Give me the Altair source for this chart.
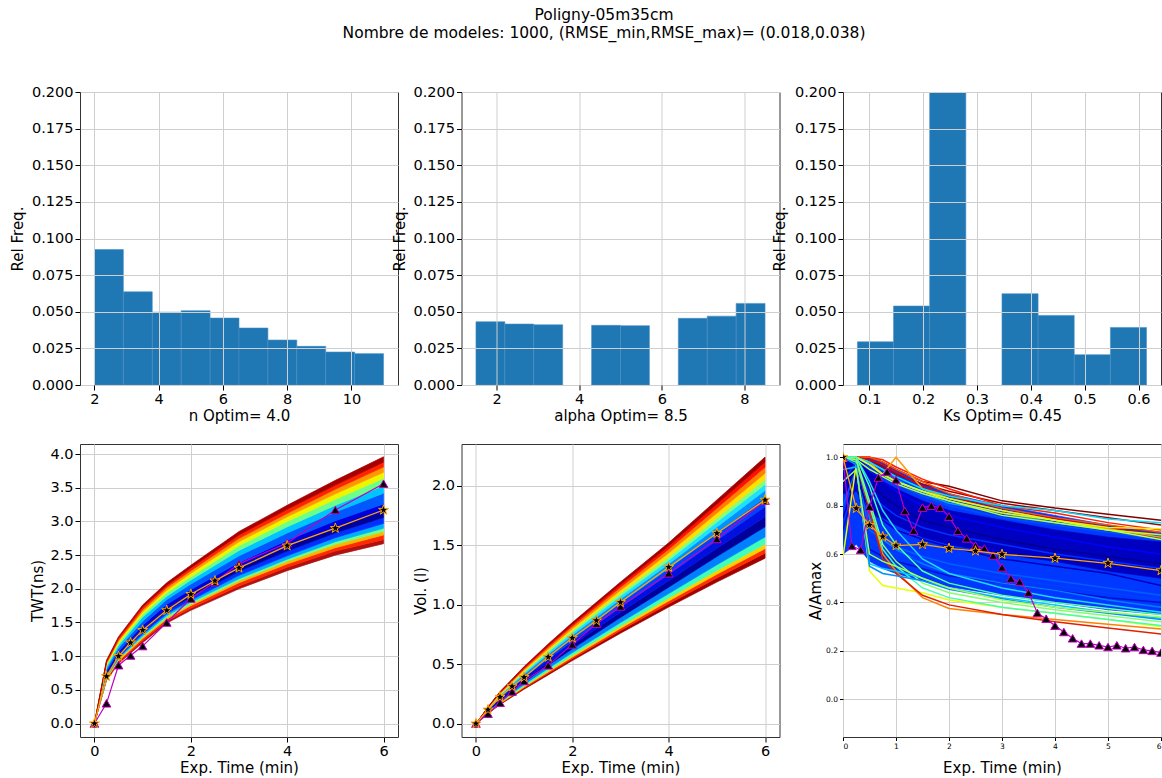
import altair as alt
import pandas as pd

FONT = "DejaVu Sans"
W, H = 318, 293
BAR = "#1f77b4"
ORANGE = "#ffa500"
MAGENTA = "#bf00bf"
STAR = ("M0,-1L0.2245,-0.309L0.9511,-0.309L0.3633,0.118L0.5878,0.809L0,0.382"
        "L-0.5878,0.809L-0.3633,0.118L-0.9511,-0.309L-0.2245,-0.309Z")

TITLE = ["Poligny-05m35cm",
         "Nombre de modeles: 1000, (RMSE_min,RMSE_max)= (0.018,0.038)"]

# ---------------- histograms ----------------
n_edges = [2.0, 2.9, 3.8, 4.7, 5.6, 6.5, 7.4, 8.3, 9.2, 10.1, 11.0]
n_freq = [0.0925, 0.0636, 0.0497, 0.0507, 0.0457, 0.0389, 0.0307, 0.0264, 0.0225, 0.0214]

a_edges = [1.5, 2.2, 2.9, 3.6, 4.3, 5.0, 5.7, 6.4, 7.1, 7.8, 8.5]
a_freq = [0.0432, 0.0416, 0.0411, 0.0, 0.0407, 0.0405, 0.0, 0.0455, 0.0470, 0.0557]

k_edges = [0.0778, 0.1449, 0.2120, 0.2792, 0.3463, 0.4134, 0.4805, 0.5477, 0.6148]
k_freq = [0.0295, 0.0539, 0.2000, 0.0, 0.0623, 0.0475, 0.0207, 0.0393]

freq_ticks = [0.0, 0.025, 0.05, 0.075, 0.1, 0.125, 0.15, 0.175, 0.2]

# ---------------- TWT panel ----------------
obs_t = [0, 0.25, 0.5, 0.75, 1, 1.5, 2, 2.5, 3, 4, 5, 6]
twt_best = [0.0, 0.70, 1.00, 1.20, 1.386, 1.68, 1.92, 2.12, 2.31, 2.64, 2.90, 3.17]
twt_obs = [0.0, 0.30, 0.866, 1.01, 1.15, 1.50, 1.856, 2.10, 2.37, 2.68, 3.17, 3.56]

fan_t = [0, 0.25, 0.5, 1, 1.5, 2, 3, 4, 5, 6]
twt_bounds = [
    [0, 0.64, 0.89, 1.20, 1.49, 1.68, 2.00, 2.27, 2.50, 2.67],
    [0, 0.66, 0.91, 1.23, 1.52, 1.71, 2.04, 2.32, 2.56, 2.73],
    [0, 0.67, 0.93, 1.26, 1.55, 1.75, 2.09, 2.37, 2.61, 2.80],
    [0, 0.68, 0.95, 1.28, 1.57, 1.77, 2.12, 2.41, 2.66, 2.85],
    [0, 0.69, 0.96, 1.30, 1.60, 1.80, 2.15, 2.44, 2.70, 2.90],
    [0, 0.71, 0.98, 1.33, 1.63, 1.83, 2.20, 2.49, 2.76, 2.97],
    [0, 0.73, 1.01, 1.37, 1.67, 1.88, 2.26, 2.56, 2.83, 3.06],
    [0, 0.75, 1.04, 1.41, 1.71, 1.93, 2.31, 2.63, 2.91, 3.15],
    [0, 0.78, 1.07, 1.46, 1.77, 1.99, 2.39, 2.72, 3.01, 3.26],
    [0, 0.81, 1.12, 1.52, 1.84, 2.07, 2.49, 2.83, 3.14, 3.42],
    [0, 0.84, 1.16, 1.58, 1.89, 2.13, 2.57, 2.92, 3.24, 3.53],
    [0, 0.87, 1.19, 1.62, 1.94, 2.18, 2.64, 3.00, 3.33, 3.64],
    [0, 0.89, 1.22, 1.66, 1.98, 2.23, 2.70, 3.07, 3.41, 3.73],
    [0, 0.90, 1.24, 1.69, 2.02, 2.27, 2.75, 3.12, 3.48, 3.81],
    [0, 0.92, 1.27, 1.73, 2.05, 2.31, 2.80, 3.18, 3.54, 3.88],
    [0, 0.94, 1.29, 1.76, 2.09, 2.35, 2.85, 3.24, 3.61, 3.96],
]
twt_colors = ["#b01010", "#ff2a00", "#ffb400", "#70ff88", "#00b0ff", "#0030ff",
              "#00009c", "#0000dd", "#0058ff", "#00c4ff", "#6cff8a", "#eef500",
              "#ff9800", "#ff2400", "#a80000"]

# ---------------- Volume panel ----------------
vol_best = [0.0, 0.117, 0.224, 0.313, 0.39, 0.56, 0.72, 0.867, 1.02, 1.315, 1.60, 1.88]
vol_obs = [0.0, 0.084, 0.176, 0.27, 0.358, 0.49, 0.666, 0.84, 0.985, 1.264, 1.552, 1.874]

vol_bounds = [
    [0, 0.085, 0.160, 0.290, 0.410, 0.530, 0.760, 0.980, 1.190, 1.390],
    [0, 0.088, 0.166, 0.300, 0.423, 0.546, 0.782, 1.007, 1.225, 1.433],
    [0, 0.090, 0.170, 0.308, 0.435, 0.560, 0.801, 1.031, 1.256, 1.471],
    [0, 0.093, 0.175, 0.317, 0.446, 0.575, 0.820, 1.056, 1.287, 1.509],
    [0, 0.097, 0.183, 0.330, 0.465, 0.597, 0.850, 1.093, 1.335, 1.569],
    [0, 0.102, 0.194, 0.349, 0.491, 0.629, 0.893, 1.147, 1.404, 1.654],
    [0, 0.108, 0.205, 0.368, 0.517, 0.661, 0.936, 1.201, 1.473, 1.739],
    [0, 0.113, 0.216, 0.387, 0.543, 0.693, 0.979, 1.255, 1.542, 1.824],
    [0, 0.118, 0.226, 0.404, 0.566, 0.722, 1.018, 1.304, 1.604, 1.900],
    [0, 0.122, 0.234, 0.417, 0.584, 0.744, 1.048, 1.342, 1.652, 1.960],
    [0, 0.125, 0.240, 0.429, 0.600, 0.764, 1.074, 1.374, 1.694, 2.011],
    [0, 0.128, 0.246, 0.438, 0.613, 0.780, 1.095, 1.401, 1.728, 2.053],
    [0, 0.131, 0.252, 0.450, 0.628, 0.799, 1.121, 1.434, 1.770, 2.104],
    [0, 0.135, 0.259, 0.461, 0.644, 0.818, 1.147, 1.466, 1.811, 2.155],
    [0, 0.137, 0.265, 0.471, 0.657, 0.834, 1.169, 1.493, 1.846, 2.198],
    [0, 0.140, 0.270, 0.480, 0.670, 0.850, 1.190, 1.520, 1.880, 2.240],
]
vol_colors = ["#a00000", "#ff3000", "#ffd000", "#40ffb8", "#0080ff", "#00009a",
              "#0010e0", "#0040ff", "#0090ff", "#20e0ff", "#80ff80", "#ffe000",
              "#ff8000", "#ff1000", "#a00000"]

# ---------------- A/Amax panel ----------------
amp_best = [1.0, 0.789, 0.72, 0.672, 0.635, 0.64, 0.624, 0.613, 0.599, 0.583, 0.562, 0.532]
amp_obs_t = [0, 0.167, 0.333, 0.5, 0.667, 0.833, 1.0, 1.167, 1.333, 1.5, 1.667, 1.833,
             2.0, 2.167, 2.333, 2.5, 2.667, 2.833, 3.0, 3.167, 3.333, 3.5, 3.667, 3.833,
             4.0, 4.167, 4.333, 4.5, 4.667, 4.833, 5.0, 5.167, 5.333, 5.5, 5.667, 5.833, 6.0]
amp_obs = [1.0, 0.634, 0.617, 0.796, 0.916, 0.94, 0.906, 0.778, 0.697, 0.792, 0.80, 0.792,
           0.755, 0.696, 0.665, 0.635, 0.623, 0.594, 0.545, 0.499, 0.486, 0.441, 0.357, 0.333,
           0.304, 0.278, 0.252, 0.23, 0.23, 0.223, 0.216, 0.223, 0.211, 0.216, 0.204, 0.2, 0.193]

amp_t = [0, 0.25, 0.5, 0.75, 1, 1.5, 2, 3, 4, 5, 6]
amp_env_hi = [1.0, 1.0, 1.0, 0.98, 0.95, 0.89, 0.85, 0.80, 0.76, 0.72, 0.69]
amp_env_lo = [0.60, 0.64, 0.57, 0.54, 0.52, 0.49, 0.465, 0.43, 0.40, 0.37, 0.35]
amp_core_hi = [1.0, 0.99, 0.94, 0.90, 0.87, 0.82, 0.78, 0.74, 0.70, 0.67, 0.65]
amp_core_lo = [0.85, 0.86, 0.78, 0.75, 0.72, 0.67, 0.64, 0.60, 0.57, 0.53, 0.50]

amp_line_colors = [
    "#0000ff", "#0050ff", "#0030ff", "#0060ff", "#00008f", "#0010d0", "#0080ff",
    "#00a0ff", "#0000c0", "#0040ff",
    "#800000", "#a00000", "#ff2000", "#ff5000", "#e00000", "#ff9a00", "#f0f000",
    "#00e0ff", "#b0ff40", "#c8ff30",
    "#e8ff00", "#ff8000", "#e02000", "#40ffb0", "#80ff70", "#00c8ff", "#0090ff",
    "#a0ff50", "#20d8ff", "#50ffa0",
]
amp_lines = [
    [1.0, 1.0, 0.95, 0.90, 0.86, 0.80, 0.76, 0.71, 0.67, 0.63, 0.60],
    [1.0, 1.0, 0.97, 0.93, 0.89, 0.84, 0.80, 0.75, 0.72, 0.69, 0.66],
    [0.90, 0.98, 0.85, 0.80, 0.76, 0.71, 0.68, 0.64, 0.60, 0.57, 0.54],
    [0.80, 0.95, 0.70, 0.66, 0.63, 0.59, 0.56, 0.52, 0.49, 0.46, 0.43],
    [1.0, 0.99, 0.90, 0.84, 0.80, 0.74, 0.71, 0.66, 0.62, 0.59, 0.56],
    [0.70, 0.90, 0.62, 0.59, 0.57, 0.54, 0.51, 0.48, 0.45, 0.42, 0.40],
    [1.0, 1.0, 0.75, 0.66, 0.62, 0.56, 0.52, 0.48, 0.45, 0.41, 0.38],
    [1.0, 1.0, 0.98, 0.95, 0.91, 0.85, 0.81, 0.77, 0.73, 0.70, 0.68],
    [0.75, 0.92, 0.78, 0.74, 0.70, 0.66, 0.63, 0.58, 0.55, 0.52, 0.47],
    [0.65, 0.85, 0.66, 0.62, 0.60, 0.57, 0.54, 0.50, 0.47, 0.44, 0.41],
    [1.0, 1.0, 1.0, 0.98, 0.95, 0.90, 0.88, 0.82, 0.79, 0.765, 0.74],
    [1.0, 1.0, 0.99, 0.96, 0.93, 0.89, 0.86, 0.81, 0.78, 0.75, 0.72],
    [1.0, 1.0, 1.0, 0.99, 0.96, 0.91, 0.87, 0.80, 0.77, 0.73, 0.70],
    [1.0, 1.0, 1.0, 0.98, 0.95, 0.90, 0.85, 0.79, 0.75, 0.72, 0.69],
    [1.0, 1.0, 0.99, 0.97, 0.94, 0.88, 0.84, 0.78, 0.745, 0.71, 0.68],
    [0.98, 1.0, 0.98, 0.93, 1.0, 0.87, 0.83, 0.78, 0.74, 0.705, 0.67],
    [1.0, 1.0, 0.97, 0.93, 0.90, 0.86, 0.82, 0.77, 0.74, 0.71, 0.705],
    [1.0, 1.0, 0.98, 0.95, 0.92, 0.87, 0.84, 0.80, 0.78, 0.745, 0.73],
    [1.0, 0.99, 0.95, 0.92, 0.89, 0.85, 0.82, 0.76, 0.73, 0.70, 0.68],
    [1.0, 1.0, 0.97, 0.93, 0.90, 0.86, 0.83, 0.78, 0.74, 0.70, 0.66],
    [0.59, 0.97, 0.53, 0.47, 0.46, 0.44, 0.41, 0.38, 0.355, 0.33, 0.30],
    [1.0, 0.99, 0.80, 0.60, 0.53, 0.42, 0.375, 0.35, 0.33, 0.31, 0.29],
    [1.0, 0.98, 0.78, 0.58, 0.52, 0.43, 0.39, 0.35, 0.32, 0.295, 0.27],
    [1.0, 0.98, 0.80, 0.62, 0.55, 0.46, 0.42, 0.38, 0.355, 0.33, 0.305],
    [1.0, 0.99, 0.82, 0.64, 0.57, 0.48, 0.44, 0.40, 0.37, 0.345, 0.32],
    [0.95, 0.96, 0.56, 0.54, 0.53, 0.50, 0.46, 0.42, 0.39, 0.36, 0.335],
    [1.0, 0.97, 0.55, 0.52, 0.51, 0.49, 0.455, 0.415, 0.38, 0.355, 0.33],
    [0.90, 0.95, 0.60, 0.57, 0.55, 0.50, 0.46, 0.41, 0.38, 0.36, 0.34],
    [1.0, 1.0, 0.90, 0.78, 0.70, 0.58, 0.52, 0.46, 0.42, 0.39, 0.36],
    [1.0, 1.0, 0.88, 0.72, 0.64, 0.53, 0.48, 0.43, 0.40, 0.375, 0.35],
]


# ---------------- helpers ----------------
def xenc(field, dom, values, fmt, title, zindex=0, small=False, flush=False):
    ax = dict(values=values, format=fmt, title=title, zindex=zindex,
              titleY=23, titleX=W / 2, titleBaseline="top", titleAlign="center",
              labelFlush=flush)
    if small:
        ax.update(labelFontSize=7.5, tickSize=3.5, labelPadding=2)
    return alt.X(field, scale=alt.Scale(domain=dom, nice=False, zero=False),
                 axis=alt.Axis(**ax))


def yenc(field, dom, values, fmt, title, tx, zindex=0, small=False):
    ax = dict(values=values, format=fmt, title=title, zindex=zindex,
              titleX=tx, titleY=H / 2, titleAngle=270, titleAlign="center",
              titleBaseline="bottom")
    if small:
        ax.update(labelFontSize=7.5, tickSize=3.5, labelPadding=2)
    return alt.Y(field, scale=alt.Scale(domain=dom, nice=False, zero=False),
                 axis=alt.Axis(**ax), stack=None)


def hist(edges, freq, dom, ticks, fmt, title, tx):
    df = pd.DataFrame({"lo": edges[:-1], "hi": edges[1:], "f": freq,
                       "b": [0.0] * len(freq)})
    df = df[df["f"] > 0]
    return alt.Chart(df).mark_rect(color=BAR, clip=True, stroke="#4a8fc4",
                                   strokeWidth=0.6).encode(
        x=xenc("lo:Q", dom, ticks, fmt, title, zindex=1),
        x2="hi:Q",
        y=yenc("f:Q", [0, 0.2], freq_ticks, ".3f", "Rel Freq.", tx, zindex=1),
        y2="b:Q",
    ).properties(width=W, height=H)


def bands(times, bounds, colors):
    rows = []
    for k, c in enumerate(colors):
        for i, t in enumerate(times):
            rows.append({"t": t, "lo": bounds[k][i], "hi": bounds[k + 1][i],
                         "band": k, "col": c})
    return pd.DataFrame(rows)


def series(times, vals):
    return pd.DataFrame({"t": times, "v": vals})


def band_layer(df, X, Y):
    return alt.Chart(df).mark_area(strokeWidth=0.7, clip=True, opacity=1).encode(
        x=X("t:Q"), y=Y("lo:Q"), y2="hi:Q",
        color=alt.Color("col:N", scale=None),
        stroke=alt.Stroke("col:N", scale=None),
        detail="band:N",
    )


def fan_panel(X, Y, first_layers, best, obs, obs_times):
    odf = series(obs_times, obs)
    bdf = series(obs_t, best)
    layers = list(first_layers) + [
        alt.Chart(odf).mark_line(color=MAGENTA, strokeWidth=1.2, clip=True).encode(
            x=X("t:Q"), y=Y("v:Q")),
        alt.Chart(odf).mark_point(shape="triangle-up", filled=True, fill="black",
                                  stroke=MAGENTA, strokeWidth=1, size=75, opacity=1,
                                  clip=True).encode(x=X("t:Q"), y=Y("v:Q")),
        alt.Chart(bdf).mark_line(color=ORANGE, strokeWidth=1.3, clip=True).encode(
            x=X("t:Q"), y=Y("v:Q")),
        alt.Chart(bdf).mark_point(shape=STAR, filled=True, fill="black",
                                  stroke=ORANGE, strokeWidth=1, size=110, opacity=1,
                                  clip=True).encode(x=X("t:Q"), y=Y("v:Q")),
    ]
    return alt.layer(*layers).properties(width=W, height=H)


# ---------------- top row ----------------
h1 = hist(n_edges, n_freq, [1.55, 11.45], [2, 4, 6, 8, 10], "d", "n Optim= 4.0", -55)
h2 = hist(a_edges, a_freq, [1.15, 8.85], [2, 4, 6, 8], "d", "alpha Optim= 8.5", -54)
h3 = hist(k_edges, k_freq, [0.051, 0.6417], [0.1, 0.2, 0.3, 0.4, 0.5, 0.6], ".1f",
          "Ks Optim= 0.45", -56)

# ---------------- bottom row ----------------
twt_df = bands(fan_t, twt_bounds, twt_colors)
vol_df = bands(fan_t, vol_bounds, vol_colors)

Xt = lambda f: xenc(f, [-0.3, 6.3], [0, 2, 4, 6], "d", "Exp. Time (min)")
Yt = lambda f: yenc(f, [-0.2, 4.15], [0, 0.5, 1, 1.5, 2, 2.5, 3, 3.5, 4], ".1f",
                    "TWT(ns)", -35)
l1 = fan_panel(Xt, Yt, [band_layer(twt_df, Xt, Yt)], twt_best, twt_obs, obs_t)

Xv = lambda f: xenc(f, [-0.3, 6.3], [0, 2, 4, 6], "d", "Exp. Time (min)")
Yv = lambda f: yenc(f, [-0.112, 2.35], [0, 0.5, 1, 1.5, 2], ".1f", "Vol. (l)", -33)
l2 = fan_panel(Xv, Yv, [band_layer(vol_df, Xv, Yv)], vol_best, vol_obs, obs_t)

env_df = pd.DataFrame({"t": amp_t + amp_t, "lo": amp_env_lo + amp_core_lo,
                       "hi": amp_env_hi + amp_core_hi,
                       "band": [0] * len(amp_t) + [1] * len(amp_t),
                       "col": ["#0038ff"] * len(amp_t) + ["#0000c0"] * len(amp_t)})
rows = []
for j, (c, vals) in enumerate(zip(amp_line_colors, amp_lines)):
    for t, v in zip(amp_t, vals):
        rows.append({"t": t, "v": v, "id": j, "col": c})
amp_df = pd.DataFrame(rows)

Xa = lambda f: xenc(f, [0, 6], [0, 1, 2, 3, 4, 5, 6], "d", "Exp. Time (min)",
                    small=True, flush=True)
Ya = lambda f: yenc(f, [-0.156, 1.055], [0, 0.2, 0.4, 0.6, 0.8, 1.0], ".1f",
                    "A/Amax", -20, small=True)
amp_lines_layer = alt.Chart(amp_df).mark_line(strokeWidth=1.5, clip=True).encode(
    x=Xa("t:Q"), y=Ya("v:Q"), color=alt.Color("col:N", scale=None),
    detail="id:N", order="t:Q")
l3 = fan_panel(Xa, Ya, [band_layer(env_df, Xa, Ya), amp_lines_layer],
               amp_best, amp_obs, amp_obs_t)

chart = alt.concat(
    h1, h2, h3, l1, l2, l3, columns=3,
    spacing={"row": 59, "column": 63.5}, bounds="flush",
).properties(
    title=alt.TitleParams(text=TITLE, fontSize=15.5, font=FONT, fontWeight="normal",
                          anchor="start", align="center", frame="group", offset=42,
                          dx=524, lineHeight=18, color="black"),
    padding={"left": 9, "top": 8, "right": 0, "bottom": 0},
    autosize=alt.AutoSizeParams(type="pad"),
).configure(font=FONT, background="white").configure_view(
    stroke="#333333", strokeWidth=1
).configure_axis(
    labelFont=FONT, labelFontSize=14.5, labelColor="black",
    titleFont=FONT, titleFontSize=15, titleFontWeight="normal", titleColor="black",
    tickColor="black", tickSize=5, labelPadding=2, domain=False,
    gridColor="#cfcfcf", gridWidth=1, grid=True,
)

chart.save("out.html", embed_options={"renderer": "svg", "actions": False})
